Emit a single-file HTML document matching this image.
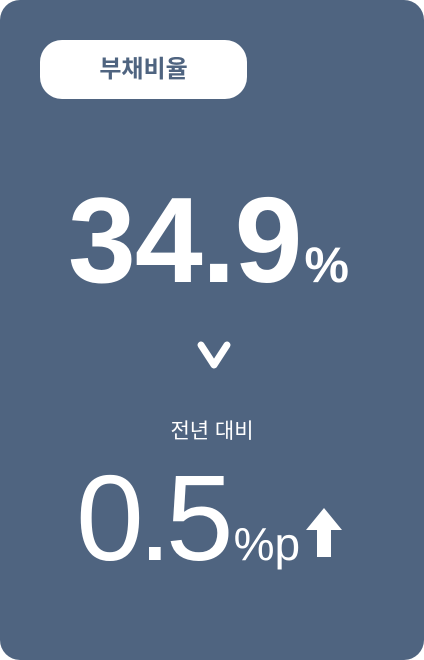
<!DOCTYPE html>
<html><head><meta charset="utf-8"><style>
html,body{margin:0;padding:0;background:#fff;}
.card{position:absolute;left:0;top:0;width:424px;height:660px;background:#4f6480;border-radius:20px;overflow:hidden;font-family:"Liberation Sans","Noto Sans CJK KR",sans-serif;color:#fff;}
.pill{position:absolute;left:40px;top:40px;width:207px;height:59px;background:#fff;border-radius:22px;color:#4f6480;font-weight:bold;font-size:24px;line-height:59px;text-align:center;}
.t{position:absolute;white-space:nowrap;}
</style></head><body>
<div class="card">
  <div class="pill">부채비율</div>
  <div class="t" style="left:68px;top:170px;font-size:122px;font-weight:bold;line-height:140px;letter-spacing:-1px;">34.9<span style="font-size:50px;letter-spacing:0;margin-left:3px;">%</span></div>
  <svg class="t" style="left:196px;top:338px" width="36" height="34" viewBox="0 0 36 34"><polyline points="5,7 18,27 31,7" fill="none" stroke="#fff" stroke-width="7" stroke-linecap="round" stroke-linejoin="round"/></svg>
  <div class="t" style="left:0;width:424px;text-align:center;top:418px;font-size:21px;line-height:28px;">전년 대비</div>
  <div class="t" style="left:76px;top:448px;font-size:122px;line-height:140px;letter-spacing:-6px;">0.5<span style="font-size:46px;letter-spacing:0;margin-left:6px;">%p</span></div>
  <svg class="t" style="left:304px;top:506px" width="40" height="52" viewBox="0 0 40 52"><polygon points="20,2 38,24 27,24 27,51 13,51 13,24 2,24" fill="#fff"/></svg>
</div>
</body></html>
